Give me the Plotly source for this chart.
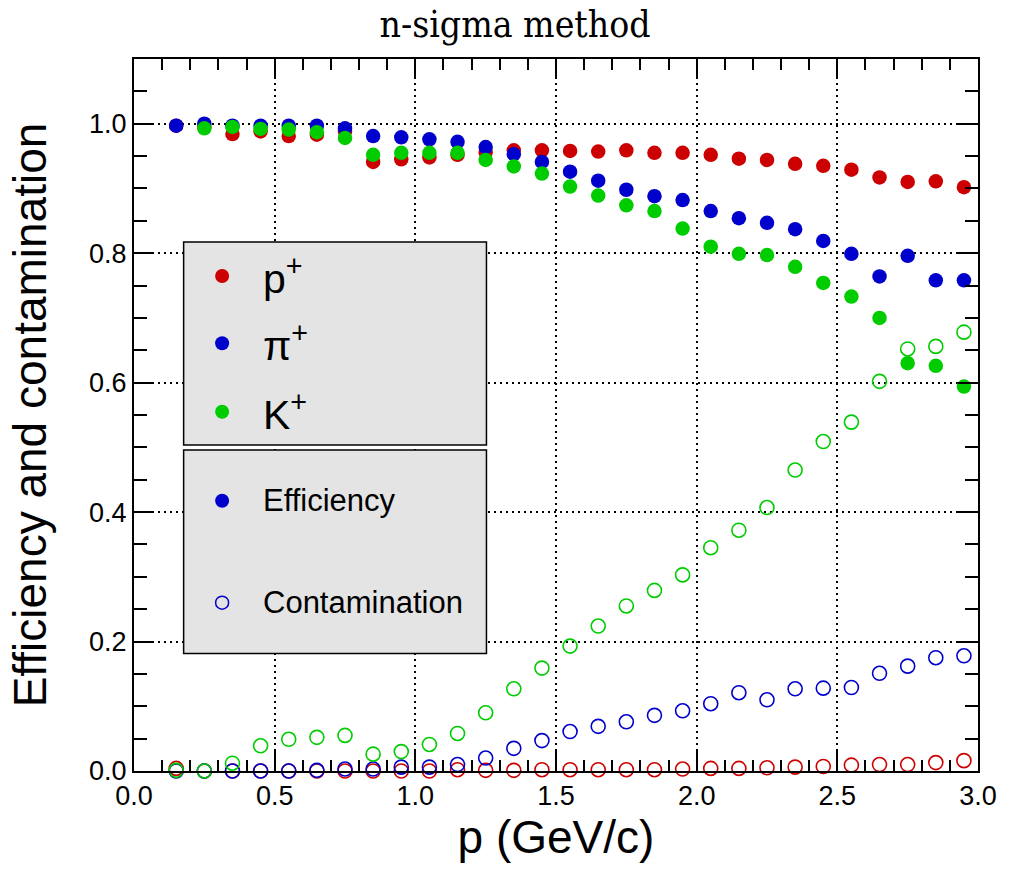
import plotly.graph_objects as go

momentum = [0.15, 0.25, 0.35, 0.45, 0.55, 0.65, 0.75, 0.85, 0.95, 1.05,
            1.15, 1.25, 1.35, 1.45, 1.55, 1.65, 1.75, 1.85, 1.95, 2.05,
            2.15, 2.25, 2.35, 2.45, 2.55, 2.65, 2.75, 2.85, 2.95]

proton_eff = [0.997, 0.995, 0.984, 0.988, 0.981, 0.983, 0.988, 0.941, 0.945, 0.948,
              0.952, 0.956, 0.959, 0.959, 0.958, 0.957, 0.959, 0.955, 0.955, 0.952,
              0.946, 0.944, 0.938, 0.935, 0.929, 0.917, 0.910, 0.911, 0.902]
pion_eff = [0.997, 1.000, 0.997, 0.997, 0.997, 0.997, 0.993, 0.981, 0.979, 0.976,
            0.972, 0.964, 0.953, 0.941, 0.926, 0.912, 0.898, 0.888, 0.882, 0.865,
            0.854, 0.847, 0.837, 0.819, 0.799, 0.764, 0.796, 0.758, 0.758]
kaon_eff = [None, 0.993, 0.995, 0.992, 0.991, 0.987, 0.978, 0.952, 0.955, 0.955,
            0.955, 0.944, 0.934, 0.923, 0.903, 0.889, 0.874, 0.865, 0.838, 0.810,
            0.799, 0.797, 0.779, 0.754, 0.733, 0.700, 0.630, 0.626, 0.594]

proton_cont = [0.004, 0.0, 0.0, 0.0, 0.0, 0.0, 0.0, 0.0, 0.0, 0.0,
               0.002, 0.001, 0.001, 0.002, 0.002, 0.002, 0.002, 0.002, 0.003, 0.004,
               0.004, 0.005, 0.006, 0.007, 0.009, 0.010, 0.010, 0.013, 0.016]
pion_cont = [0.0, 0.0, 0.0, 0.0, 0.0, 0.001, 0.003, 0.003, 0.006, 0.006,
             0.010, 0.020, 0.035, 0.047, 0.061, 0.069, 0.076, 0.086, 0.093, 0.104,
             0.121, 0.110, 0.127, 0.128, 0.129, 0.151, 0.162, 0.175, 0.178]
kaon_cont = [0.001, 0.0, 0.012, 0.039, 0.049, 0.052, 0.055, 0.026, 0.030, 0.041,
             0.058, 0.090, 0.127, 0.159, 0.193, 0.224, 0.255, 0.279, 0.303, 0.345,
             0.372, 0.407, 0.465, 0.509, 0.539, 0.602, 0.652, 0.656, 0.678]

species = ["p<sup>+</sup>", "\u03c0<sup>+</sup>", "K<sup>+</sup>"]
colors = ["#cc0000", "#0000cc", "#00cc00"]
eff_series = [proton_eff, pion_eff, kaon_eff]
cont_series = [proton_cont, pion_cont, kaon_cont]

fig = go.Figure()
for name, col, vals in zip(species, colors, eff_series):
    fig.add_trace(go.Scatter(x=momentum, y=vals, mode="markers", name=name,
                             cliponaxis=False, showlegend=False,
                             marker=dict(symbol="circle", size=14.5, color=col,
                                         line=dict(width=0))))
for name, col, vals in zip(species, colors, cont_series):
    fig.add_trace(go.Scatter(x=momentum, y=vals, mode="markers", name=name,
                             cliponaxis=False, showlegend=False,
                             marker=dict(symbol="circle-open", size=14, color=col,
                                         line=dict(width=1.6, color=col))))

# ---- legend boxes (ROOT TLegend style) ----
shapes = []
annotations = []
box_fill = "#e4e4e4"
shapes.append(dict(type="rect", xref="paper", yref="paper", x0=0.0588, x1=0.4176,
                   y0=0.458, y1=0.743, fillcolor=box_fill,
                   line=dict(color="black", width=1.5), layer="above"))
shapes.append(dict(type="rect", xref="paper", yref="paper", x0=0.0588, x1=0.4176,
                   y0=0.165, y1=0.451, fillcolor=box_fill,
                   line=dict(color="black", width=1.5), layer="above"))

mark_x = 0.1044
text_x = 0.1502
species_y = [0.6952, 0.6007, 0.5046]
for lab, col, yy in zip(species, colors, species_y):
    shapes.append(dict(type="circle", xref="paper", yref="paper",
                       xsizemode="pixel", ysizemode="pixel", xanchor=mark_x, yanchor=yy,
                       x0=-7, x1=7, y0=-7, y1=7, fillcolor=col,
                       line=dict(width=0), layer="above"))
    annotations.append(dict(x=text_x, y=yy, xref="paper", yref="paper", text=lab,
                            showarrow=False, xanchor="left", yanchor="middle",
                            font=dict(family="Liberation Sans", size=41, color="black")))

kind_y = [0.3796, 0.2364]
kind_lab = ["Efficiency", "Contamination"]
for i, (lab, yy) in enumerate(zip(kind_lab, kind_y)):
    if i == 0:
        shapes.append(dict(type="circle", xref="paper", yref="paper",
                           xsizemode="pixel", ysizemode="pixel", xanchor=mark_x, yanchor=yy,
                           x0=-7, x1=7, y0=-7, y1=7, fillcolor="#0000cc",
                           line=dict(width=0), layer="above"))
    else:
        shapes.append(dict(type="circle", xref="paper", yref="paper",
                           xsizemode="pixel", ysizemode="pixel", xanchor=mark_x, yanchor=yy,
                           x0=-6.5, x1=6.5, y0=-6.5, y1=6.5, fillcolor="rgba(0,0,0,0)",
                           line=dict(width=1.5, color="#0000cc"), layer="above"))
    annotations.append(dict(x=text_x, y=yy, xref="paper", yref="paper", text=lab,
                            showarrow=False, xanchor="left", yanchor="middle",
                            font=dict(family="Liberation Sans", size=31, color="black")))

axis_common = dict(
    showline=True, linecolor="black", linewidth=2, mirror="allticks",
    ticks="inside", tickcolor="black", tickwidth=1.5,
    showgrid=True, gridcolor="black", gridwidth=2, griddash="2px,4px",
    zeroline=False,
    tickfont=dict(family="Liberation Sans", size=27, color="black"),
    title_font=dict(family="Liberation Sans", size=46, color="black"),
)

fig.update_layout(
    width=1009, height=877,
    margin=dict(l=134, r=25, t=59, b=106),
    paper_bgcolor="white", plot_bgcolor="white",
    title=dict(text="n-sigma method", x=515 / 1009, xanchor="center",
               y=1 - 24 / 877, yanchor="middle", yref="container",
               font=dict(family="DejaVu Serif Condensed, DejaVu Serif", size=37,
                         color="black")),
    showlegend=False,
    shapes=shapes, annotations=annotations,
)
fig.update_xaxes(**axis_common, range=[0, 3], dtick=0.5, tick0=0, tickformat=".1f",
                 ticklen=20, title_text="p (GeV/c)", title_standoff=6,
                 minor=dict(ticks="inside", dtick=0.1, ticklen=11, tickcolor="black",
                            tickwidth=1.5, showgrid=False))
fig.update_yaxes(**axis_common, range=[0, 1.1], dtick=0.2, tick0=0, tickformat=".1f",
                 ticklen=20, title_text="Efficiency and contamination", title_standoff=28,
                 minor=dict(ticks="inside", dtick=0.05, ticklen=13, tickcolor="black",
                            tickwidth=1.5, showgrid=False))

fig.write_html("out.html")
